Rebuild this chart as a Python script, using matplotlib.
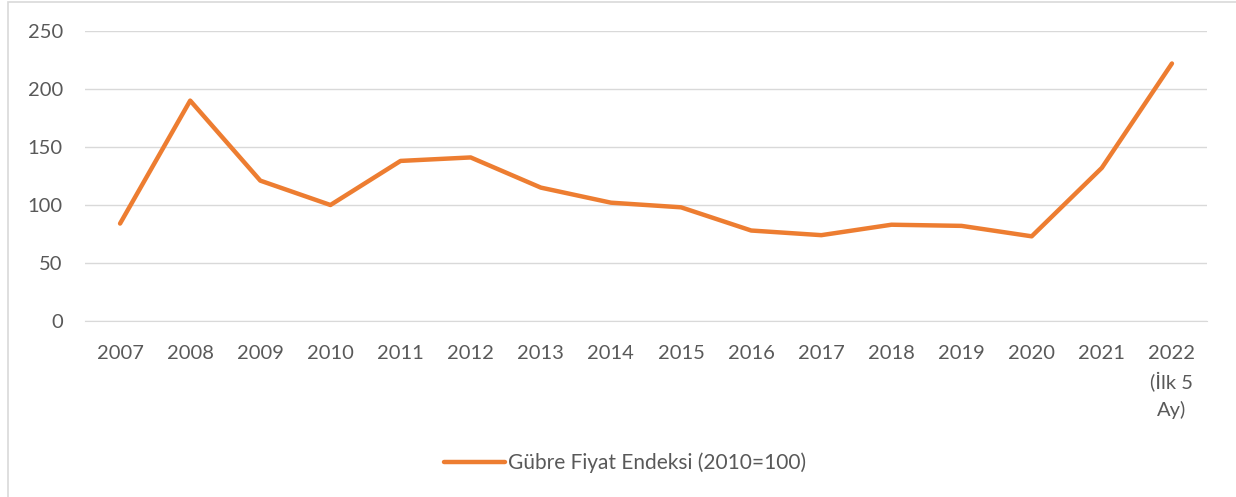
import numpy as np
import matplotlib.pyplot as plt
from matplotlib.patches import Rectangle

plt.rcParams["font.family"] = ["Lato", "DejaVu Sans"]

# Gübre fiyat endeksi (2010=100)
years = ["2007", "2008", "2009", "2010", "2011", "2012", "2013", "2014",
         "2015", "2016", "2017", "2018", "2019", "2020", "2021",
         "2022\n(İlk 5\nAy)"]
index_values = [84, 190, 121, 100, 138, 141, 115, 102,
                98, 78, 74, 83, 82, 73, 132, 222]
series_name = "Gübre Fiyat Endeksi (2010=100)"
y_ticks = [0, 50, 100, 150, 200, 250]

text_col = "#595959"
grid_col = "#d9d9d9"
line_col = "#ED7D31"

fig = plt.figure(figsize=(12.36, 4.97), dpi=100)
ax = fig.add_axes([85 / 1236, 1 - 321 / 497, (1207 - 85) / 1236, (321 - 31) / 497])

x = np.arange(len(years))
ax.plot(x, index_values, color=line_col, lw=3.2, solid_capstyle="round",
        solid_joinstyle="round", label=series_name)

ax.set_xlim(-0.5, len(years) - 0.5)
ax.set_ylim(0, 250)
ax.set_yticks(y_ticks)
ax.set_xticks(x)
ax.set_xticklabels(years, linespacing=1.6)
ax.yaxis.grid(True, color=grid_col, lw=1.0)
ax.set_axisbelow(True)
for s in ["top", "right", "left"]:
    ax.spines[s].set_visible(False)
ax.spines["bottom"].set_color(grid_col)
ax.tick_params(axis="both", length=0, labelsize=14.5, labelcolor=text_col)
ax.tick_params(axis="x", pad=17)
ax.tick_params(axis="y", pad=16)

leg = fig.legend(loc="center", bbox_to_anchor=(625 / 1236, 1 - 463 / 497),
                 frameon=False, fontsize=15, handlelength=2.9, handletextpad=0.15)
for t in leg.get_texts():
    t.set_color(text_col)
for h in leg.get_lines():
    h.set_linewidth(3.2)
    h.set_solid_capstyle("round")

# chart area border
fig.patches.append(Rectangle((8 / 1236, -0.05), 1.1, 1 - 2 / 497 + 0.05,
                             transform=fig.transFigure, fill=False,
                             edgecolor="#d9d9d9", lw=1.2))

fig.savefig("out.png", dpi=100, facecolor="white")
